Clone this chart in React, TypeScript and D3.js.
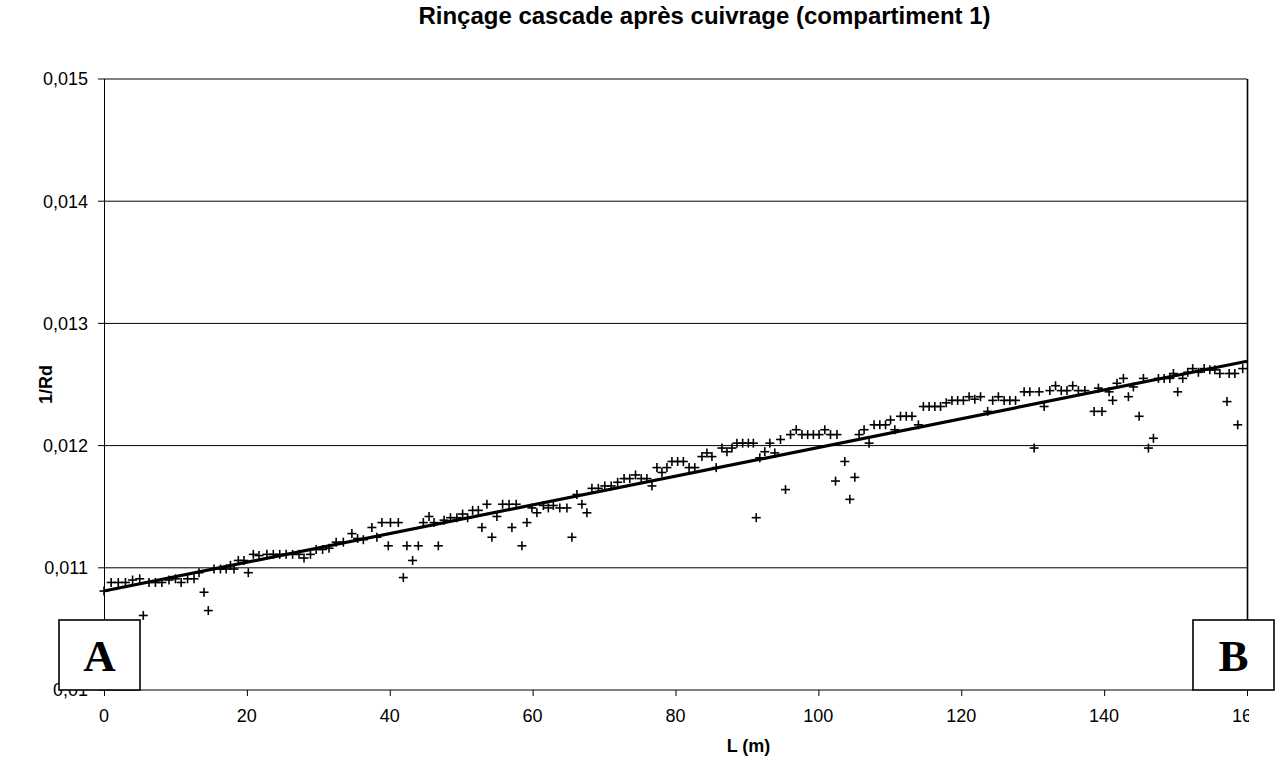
import React from "react";
import * as d3 from "d3";

const lengths: number[] = [
  0, 1, 2, 3, 4, 5, 5.5, 6.3, 7.2, 8.1, 9.1, 10, 10.8, 11.7, 12.6, 13.3, 14, 14.6, 15.4, 16.3,
  17.1, 17.7, 18.2, 18.8, 19.6, 20.2, 20.9, 21.7, 22.8, 23.7, 24.6, 25.5, 26.4, 27.3, 28, 28.9,
  29.7, 30.6, 31.5, 32.5, 33.5, 34.7, 35.5, 36.3, 37.5, 38.2, 38.9, 39.8, 40.1, 41.2, 41.9, 42.4,
  43.2, 44, 44.7, 45.5, 46.2, 46.8, 47.6, 48.5, 49.4, 50.2, 50.9, 51.6, 52.4, 52.9, 53.6, 54.3,
  55, 55.8, 56.7, 57.1, 57.7, 58.5, 59.2, 59.9, 60.6, 61.5, 62.2, 62.9, 63.8, 64.8, 65.5, 66.2,
  66.9, 67.6, 68.3, 69.2, 70.1, 71, 71.9, 72.8, 73.6, 74.4, 75.2, 76, 76.7, 77.4, 78.1, 78.8,
  79.5, 80.3, 81.1, 81.9, 82.7, 83.7, 84.4, 85.1, 85.7, 86.5, 87.2, 87.9, 88.6, 89.4, 90.2, 90.9,
  91.3, 91.8, 92.5, 93.2, 93.9, 94.7, 95.4, 96.1, 96.9, 97.7, 98.5, 99.3, 100.1, 100.9, 101.7,
  102.4, 102.6, 103.7, 104.4, 105.1, 105.7, 106.4, 107.1, 107.8, 108.6, 109.4, 110.1, 110.7,
  111.5, 112.3, 113.1, 114, 114.7, 115.5, 116.3, 117.1, 117.9, 118.7, 119.5, 120.3, 121.1, 121.9,
  122.7, 123.7, 124.4, 125.2, 126, 126.8, 127.6, 128.8, 129.6, 130.2, 130.9, 131.6, 132.4, 133.2,
  134, 134.8, 135.6, 136.4, 137.3, 138.6, 139.2, 139.7, 140.7, 141.2, 141.8, 142.7, 143.4, 144.1,
  144.9, 145.5, 146.2, 146.9, 147.6, 148.4, 149.2, 149.7, 150.3, 151, 151.7, 152.4, 153.2, 154,
  154.8, 155.5, 156.2, 157.2, 157.5, 158.3, 158.7, 159.4,
];

const invRd: number[] = [
  0.01081, 0.01088, 0.01088, 0.01088, 0.0109, 0.01091, 0.01061, 0.01088, 0.01088, 0.01088, 0.0109,
  0.01091, 0.01088, 0.01091, 0.01091, 0.01096, 0.0108, 0.01065, 0.01099, 0.01099, 0.01099, 0.01102,
  0.01099, 0.01106, 0.01106, 0.01096, 0.01111, 0.0111, 0.01111, 0.01111, 0.01111, 0.01111, 0.01111,
  0.01111, 0.01108, 0.01111, 0.01115, 0.01115, 0.01116, 0.01121, 0.01121, 0.01128, 0.01124, 0.01123,
  0.01133, 0.01125, 0.01137, 0.01118, 0.01137, 0.01137, 0.01092, 0.01118, 0.01106, 0.01118, 0.01137,
  0.01142, 0.01137, 0.01118, 0.01139, 0.01141, 0.01141, 0.01144, 0.01141, 0.01147, 0.01147, 0.01133,
  0.01152, 0.01125, 0.01142, 0.01152, 0.01152, 0.01133, 0.01152, 0.01118, 0.01137, 0.01149, 0.01145,
  0.01151, 0.01149, 0.01151, 0.01149, 0.01149, 0.01125, 0.0116, 0.01152, 0.01145, 0.01165, 0.01165,
  0.01167, 0.01167, 0.0117, 0.01173, 0.01173, 0.01176, 0.01173, 0.01173, 0.01167, 0.01182, 0.01178,
  0.01182, 0.01187, 0.01187, 0.01187, 0.01182, 0.01182, 0.01191, 0.01194, 0.01191, 0.01182, 0.01198,
  0.01195, 0.01198, 0.01202, 0.01202, 0.01202, 0.01202, 0.01141, 0.0119, 0.01195, 0.01202, 0.01194,
  0.01205, 0.01164, 0.01209, 0.01213, 0.01209, 0.01209, 0.01209, 0.01209, 0.01213, 0.01209, 0.01171,
  0.01209, 0.01187, 0.01156, 0.01174, 0.01209, 0.01213, 0.01202, 0.01217, 0.01217, 0.01217, 0.01221,
  0.01213, 0.01224, 0.01224, 0.01224, 0.01217, 0.01232, 0.01232, 0.01232, 0.01232, 0.01235, 0.01237,
  0.01237, 0.01237, 0.0124, 0.01238, 0.0124, 0.01228, 0.01237, 0.0124, 0.01237, 0.01237, 0.01237,
  0.01244, 0.01244, 0.01198, 0.01244, 0.01232, 0.01245, 0.01249, 0.01245, 0.01245, 0.01249, 0.01245,
  0.01245, 0.01228, 0.01247, 0.01228, 0.01244, 0.01237, 0.01251, 0.01255, 0.0124, 0.01248, 0.01224,
  0.01255, 0.01198, 0.01206, 0.01255, 0.01255, 0.01255, 0.01259, 0.01244, 0.01255, 0.0126, 0.01263,
  0.0126, 0.01263, 0.01262, 0.01262, 0.01259, 0.01236, 0.01259, 0.01259, 0.01217, 0.01263,
];

const trendLengths: number[] = [0, 160];
const trendValues: number[] = [0.01081, 0.01269];

const xTicks: number[] = [0, 20, 40, 60, 80, 100, 120, 140, 160];
const yTicks: number[] = [0.01, 0.011, 0.012, 0.013, 0.014, 0.015];
const yTickLabels: string[] = ["0,01", "0,011", "0,012", "0,013", "0,014", "0,015"];

const title = "Rinçage cascade après cuivrage (compartiment 1)";
const xTitle = "L (m)";
const yTitle = "1/Rd";
const boxLabels: string[] = ["A", "B"];

const SANS = "'Liberation Sans', Arial, sans-serif";
const SERIF = "'Liberation Serif', 'Times New Roman', serif";

export default function App() {
  const W = 1277;
  const H = 760;
  const left = 104;
  const right = 1247;
  const top = 79;
  const bottom = 690;

  const x = d3.scaleLinear().domain([0, 160]).range([left, right]);
  const y = d3.scaleLinear().domain([0.01, 0.015]).range([bottom, top]);

  const trendLine = d3
    .line<number>()
    .x((_, i) => x(trendLengths[i]))
    .y((d) => y(d))(trendValues) as string;

  const pts = lengths.map((l, i) => [x(l), y(invRd[i])]);
  const arm = 4.5;

  const boxW = 81;
  const boxH = 70;
  const boxA = { x: 59, y: 620 };
  const boxB = { x: 1193, y: 620 };

  return (
    <svg
      width={W}
      height={H}
      style={{ position: "absolute", left: 0, top: 0, background: "#fff" }}
    >
      <defs>
        <clipPath id="tickclip">
          <rect x={0} y={0} width={1249} height={H} />
        </clipPath>
      </defs>
      <rect x={0} y={0} width={W} height={H} fill="#fff" />

      <text
        x={704.5}
        y={24}
        textAnchor="middle"
        fontFamily={SANS}
        fontWeight="bold"
        fontSize={24}
        fill="#000"
      >
        {title}
      </text>

      {/* gridlines */}
      {yTicks.slice(1).map((t) => (
        <line key={t} x1={left - 6} x2={right} y1={y(t)} y2={y(t)} stroke="#000" strokeWidth={1} />
      ))}

      {/* x axis */}
      <line x1={left} x2={boxB.x} y1={y(0.01)} y2={y(0.01)} stroke="#000" strokeWidth={1} />
      <line x1={left - 6} x2={left} y1={y(0.01)} y2={y(0.01)} stroke="#000" strokeWidth={1} />
      {xTicks.map((t) => (
        <line key={t} x1={x(t) + 0.5} x2={x(t) + 0.5} y1={bottom} y2={bottom + 6} stroke="#000" strokeWidth={1} />
      ))}

      {/* y axis */}
      <line x1={left + 0.5} x2={left + 0.5} y1={top} y2={bottom} stroke="#000" strokeWidth={1} />
      {/* right border */}
      <line x1={right + 0.5} x2={right + 0.5} y1={top} y2={boxB.y} stroke="#000" strokeWidth={1.6} />

      {/* y tick labels */}
      {yTicks.map((t, i) => (
        <text
          key={t}
          x={88}
          y={y(t)}
          dy="0.35em"
          textAnchor="end"
          fontFamily={SANS}
          fontSize={18}
          fill="#000"
        >
          {yTickLabels[i]}
        </text>
      ))}

      {/* x tick labels */}
      <g clipPath="url(#tickclip)">
        {xTicks.map((t) => (
          <text
            key={t}
            x={x(t)}
            y={722}
            textAnchor="middle"
            fontFamily={SANS}
            fontSize={18}
            fill="#000"
          >
            {t}
          </text>
        ))}
      </g>

      <text
        x={748.5}
        y={752}
        textAnchor="middle"
        fontFamily={SANS}
        fontWeight="bold"
        fontSize={18}
        fill="#000"
      >
        {xTitle}
      </text>
      <text
        transform={`translate(52,${(top + bottom) / 2}) rotate(-90)`}
        textAnchor="middle"
        fontFamily={SANS}
        fontWeight="bold"
        fontSize={18}
        fill="#000"
      >
        {yTitle}
      </text>

      {/* data markers */}
      <g stroke="#000" strokeWidth={1.6}>
        {pts.map(([px, py], i) => (
          <g key={i}>
            <line x1={px - arm} x2={px + arm} y1={py} y2={py} />
            <line x1={px} x2={px} y1={py - arm} y2={py + arm} />
          </g>
        ))}
      </g>

      {/* trend line */}
      <path d={trendLine} fill="none" stroke="#000" strokeWidth={3.2} />

      {/* boxes */}
      {[boxA, boxB].map((b, i) => (
        <g key={i}>
          <rect x={b.x} y={b.y} width={boxW} height={boxH} fill="#fff" stroke="#000" strokeWidth={1.6} />
          <text
            x={b.x + boxW / 2}
            y={b.y + 51}
            textAnchor="middle"
            fontFamily={SERIF}
            fontWeight="bold"
            fontSize={45}
            fill="#000"
          >
            {boxLabels[i]}
          </text>
        </g>
      ))}
    </svg>
  );
}
